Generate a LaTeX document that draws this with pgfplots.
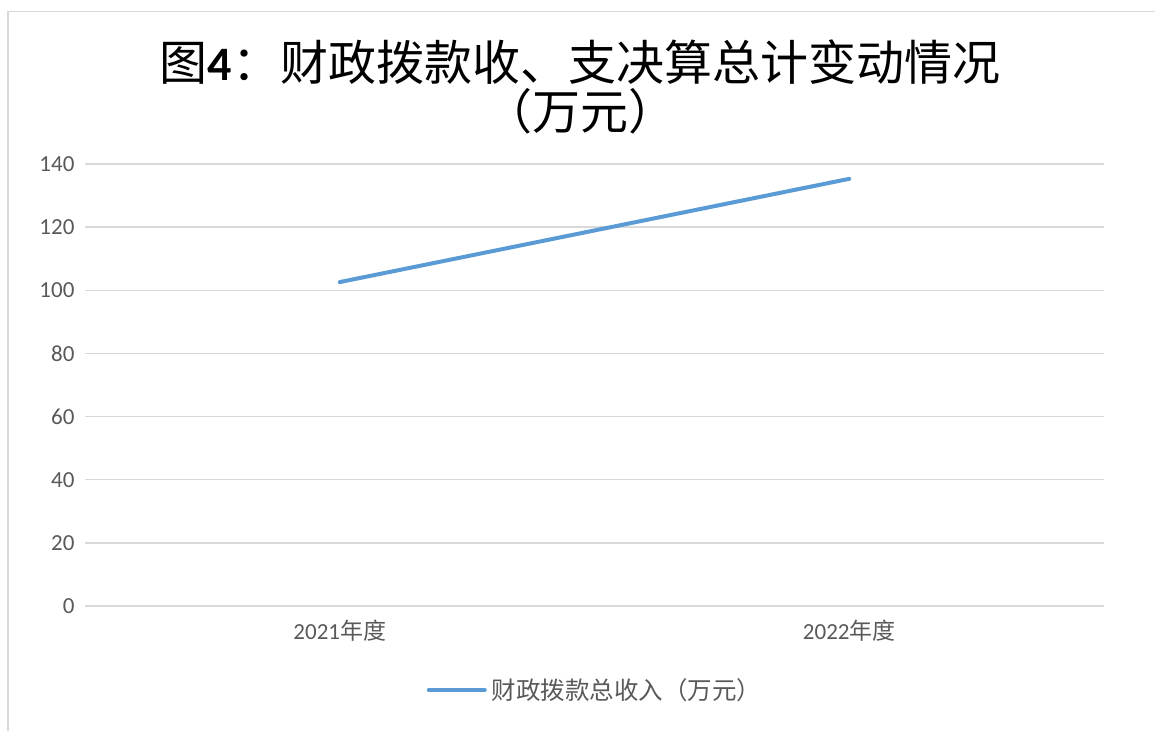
\documentclass[border=0pt]{standalone}
\usepackage{fontspec}
\setmainfont{Carlito}
\newfontfamily\cjk{Noto Sans CJK SC}
\usepackage{pgfplots}
\pgfplotsset{compat=1.18}
\definecolor{lineblue}{HTML}{5B9BD5}
\definecolor{gridgray}{HTML}{D9D9D9}
\definecolor{ticktext}{HTML}{595959}
\begin{document}
\begin{tikzpicture}[x=1pt,y=1pt]
\path[use as bounding box] (0,0) rectangle (1155,731);
\draw[color=gridgray, line width=1.5pt] (8,0) -- (8,719.5) -- (1155,719.5);
\node[font=\fontsize{48}{56}\selectfont, inner sep=0pt] at (580,669) {{\cjk 图}{\bfseries 4}{\cjk ：财政拨款收、支决算总计变动情况}};
\node[font=\fontsize{48}{56}\selectfont\cjk, inner sep=0pt] at (580,620) {（万元）};
\begin{axis}[
  at={(85pt,125pt)}, anchor=south west,
  scale only axis, width=1019pt, height=442pt,
  xmin=-0.5, xmax=1.5, ymin=0, ymax=140,
  ytick={0,20,...,140},
  xtick={0,1},
  xticklabels={2021{\cjk 年度},2022{\cjk 年度}},
  axis line style={draw=none},
  ymajorgrids,
  grid style={gridgray, line width=1.5pt},
  major tick length=0pt,
  tick style={draw=none},
  ticklabel style={font=\fontsize{23}{27}\selectfont, text=ticktext},
  yticklabel style={xshift=-7pt},
  xticklabel style={yshift=-11pt},
  /pgf/number format/assume math mode=true,
  clip=false,
  legend style={at={(0.5005,-0.19)}, anchor=center, draw=none, fill=none,
    font=\fontsize{24.5}{28}\selectfont\cjk, text=ticktext,
    /tikz/every even column/.append style={column sep=0pt}},
  legend cell align=left,
]
\addplot[color=lineblue, line width=4pt, line cap=round,
  legend image code/.code={\draw[lineblue, line width=4pt] (0pt,0pt) -- (56pt,0pt);}]
  coordinates {(0,102.6) (1,135.3)};
\addlegendentry{\hspace{3pt}财政拨款总收入（万元）}
\end{axis}
\end{tikzpicture}
\end{document}
